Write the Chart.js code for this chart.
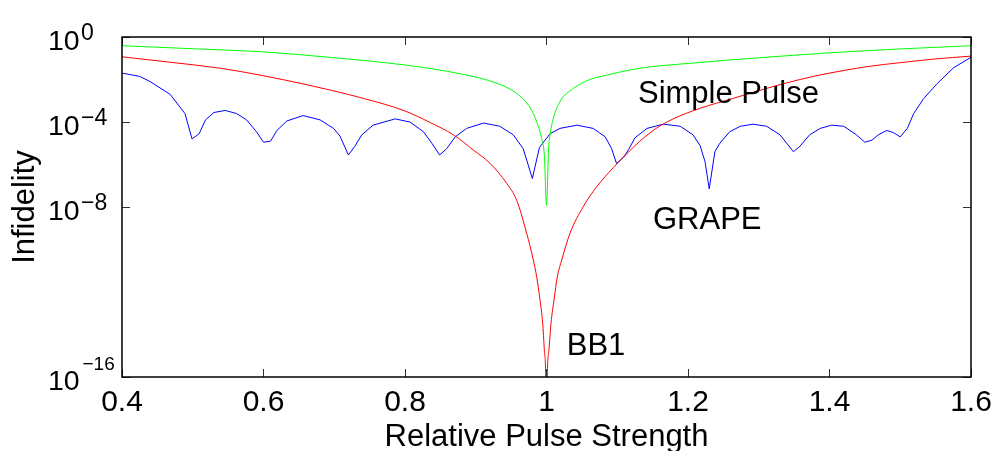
<!DOCTYPE html>
<html>
<head>
<meta charset="utf-8">
<script src="https://cdn.jsdelivr.net/npm/chart.js"></script>
<style>
    html, body { margin: 0; padding: 0; background: #fff; }
    #wrap { width: 995px; height: 451px; position: relative; }
</style>
</head>
<body>
<div id="wrap"><canvas id="infidelityChart"></canvas></div>
<script>
// values (x = relative pulse strength, y = infidelity)
const simpleX = [0.40, 0.50, 0.60, 0.70, 0.80, 0.88, 0.93, 0.958, 0.977, 0.986, 0.993, 0.997, 1.000,
                 1.003, 1.005, 1.0097, 1.019, 1.038, 1.0615, 1.085, 1.132, 1.203, 1.30, 1.40, 1.50, 1.60];
const simpleY = [0.39, 0.28, 0.20, 0.105, 0.048, 0.018, 6.6e-3, 2.2e-3, 4.6e-4, 1.05e-4, 1.7e-5, 2.5e-6, 1.2e-8,
                 6.3e-6, 2.5e-5, 1.5e-4, 9.1e-4, 3.8e-3, 1.0e-2, 1.6e-2, 3.4e-2, 5.8e-2, 0.105, 0.18, 0.275, 0.39];

const bb1X = [0.40, 0.468, 0.5385, 0.60, 0.656, 0.694, 0.741, 0.80, 0.8353, 0.8683, 0.8966, 0.920, 0.9437, 0.9578,
              0.972, 0.9814, 0.9861, 0.9908, 0.9946, 0.9969, 0.9989, 1.000, 1.0011, 1.0035, 1.0064, 1.0106, 1.0153,
              1.0215, 1.0332, 1.052, 1.0709, 1.0944, 1.1134, 1.132, 1.155, 1.179, 1.217, 1.264, 1.311, 1.358, 1.40,
              1.4525, 1.50, 1.547, 1.60];
const bb1Y = [0.117, 0.065, 0.034, 0.015, 6.2e-3, 3.2e-3, 1.3e-3, 3.3e-4, 9.5e-5, 2.5e-5, 4.8e-6, 1.15e-6, 1.3e-7, 2.1e-8,
              5.8e-10, 3.2e-11, 5.2e-12, 4.2e-13, 3.4e-14, 1.9e-15, 1.05e-16, 1e-19, 1.05e-16, 1.9e-15, 3.4e-14, 4.2e-13, 5.2e-12,
              3.2e-11, 5.8e-10, 1.05e-8, 8.9e-8, 7.1e-7, 3.2e-6, 1.26e-5, 5.0e-5, 1.4e-4, 4.4e-4, 1.3e-3, 3.8e-3, 1.0e-2, 2.0e-2,
              4.0e-2, 6.2e-2, 9.1e-2, 0.126];

const grapeX = [0.400, 0.425, 0.440, 0.468, 0.489, 0.499, 0.509, 0.518, 0.530, 0.546, 0.562, 0.576, 0.590, 0.600,
                0.610, 0.619, 0.633, 0.656, 0.680, 0.699, 0.708, 0.720, 0.729, 0.739, 0.755, 0.786, 0.807, 0.826,
                0.838, 0.849, 0.859, 0.871, 0.887, 0.911, 0.934, 0.953, 0.967, 0.980, 0.990, 1.005, 1.019, 1.043,
                1.066, 1.083, 1.092, 1.099, 1.109, 1.116, 1.125, 1.142, 1.165, 1.189, 1.207, 1.217, 1.224, 1.230,
                1.238, 1.245, 1.259, 1.274, 1.292, 1.311, 1.330, 1.349, 1.358, 1.372, 1.387, 1.403, 1.420, 1.438,
                1.450, 1.460, 1.469, 1.481, 1.490, 1.500, 1.510, 1.519, 1.533, 1.552, 1.575, 1.600];
const grapeY = [2.0e-2, 1.4e-2, 7.9e-3, 2.0e-3, 2.5e-4, 1.6e-5, 2.8e-5, 1.26e-4, 2.8e-4, 3.5e-4, 2.5e-4, 1.26e-4, 3.5e-5, 1.12e-5,
                1.26e-5, 4.0e-5, 1.12e-4, 2.0e-4, 1.26e-4, 5.0e-5, 2.2e-5, 2.8e-6, 7.1e-6, 2.5e-5, 7.1e-5, 1.4e-4, 1.0e-4, 3.5e-5,
                1.0e-5, 2.8e-6, 5.6e-6, 2.0e-5, 5.0e-5, 8.9e-5, 6.3e-5, 2.5e-5, 5.6e-6, 2.2e-7, 6.3e-6, 2.8e-5, 5.0e-5, 7.1e-5,
                5.0e-5, 2.0e-5, 5.6e-6, 1.12e-6, 2.2e-6, 5.0e-6, 1.8e-5, 5.0e-5, 7.9e-5, 6.3e-5, 2.5e-5, 7.9e-6, 1.4e-6, 7.1e-8,
                4.0e-6, 1.0e-5, 3.5e-5, 6.3e-5, 7.9e-5, 6.3e-5, 2.5e-5, 4.0e-6, 7.1e-6, 2.5e-5, 5.0e-5, 7.1e-5, 6.3e-5, 2.5e-5,
                1.12e-5, 1.4e-5, 2.5e-5, 4.0e-5, 3.2e-5, 2.0e-5, 5.0e-5, 2.5e-4, 1.26e-3, 6.3e-3, 3.5e-2, 0.112];

const xTicks = [0.4, 0.6, 0.8, 1.0, 1.2, 1.4, 1.6];
const yTicks = [1, 1e-4, 1e-8, 1e-16];
const yTickExp = ['0', '\u22124', '\u22128', '\u221216'];

// in-plot curve names, anchored at (x, y) data positions
const curveNames = ['Simple Pulse', 'GRAPE', 'BB1'];
const curveNameX = [1.1293, 1.1505, 1.0286];
const curveNameY = [7.8e-4, 9.2e-10, 1.1e-15];

const FONT = '"Liberation Sans", Arial, Helvetica, sans-serif';

function pts(xs, ys) {
    return xs.map((v, i) => ({ x: v, y: ys[i] }));
}

// box, inward ticks, 10^n labels and curve names
const framePlugin = {
    id: 'frame',
    afterDatasetsDraw(chart) {
        const { ctx, chartArea: a, scales: { x, y } } = chart;
        ctx.save();

        ctx.strokeStyle = '#333';
        ctx.lineWidth = 1;
        ctx.beginPath();
        xTicks.forEach(v => {
            const px = Math.round(x.getPixelForValue(v)) + 0.5;
            ctx.moveTo(px, a.bottom); ctx.lineTo(px, a.bottom - 8);
            ctx.moveTo(px, a.top); ctx.lineTo(px, a.top + 8);
        });
        yTicks.forEach(v => {
            const py = Math.round(y.getPixelForValue(v)) + 0.5;
            ctx.moveTo(a.left, py); ctx.lineTo(a.left + 8, py);
            ctx.moveTo(a.right, py); ctx.lineTo(a.right - 8, py);
        });
        ctx.stroke();

        ctx.strokeStyle = '#000';
        ctx.lineWidth = 1.5;
        ctx.strokeRect(a.left, a.top, a.right - a.left, a.bottom - a.top);

        ctx.fillStyle = '#000';
        ctx.textAlign = 'left';
        ctx.textBaseline = 'alphabetic';
        yTicks.forEach((v, i) => {
            const py = y.getPixelForValue(v);
            ctx.font = '28.5px ' + FONT;
            ctx.fillText('10', 48, py + 13);
            const small = yTickExp[i].length > 2;
            ctx.font = (small ? 19 : 23) + 'px ' + FONT;
            ctx.fillText(yTickExp[i], small ? 82.5 : 81, small ? py - 7 : py + 2.5);
        });

        ctx.font = '31px ' + FONT;
        curveNames.forEach((t, i) => {
            ctx.fillText(t, x.getPixelForValue(curveNameX[i]), y.getPixelForValue(curveNameY[i]));
        });
        ctx.restore();
    }
};

const ctx = document.getElementById('infidelityChart').getContext('2d');
const infidelityChart = new Chart(ctx, {
    type: 'line',
    data: {
        datasets: [
            {
                label: 'Simple Pulse',
                data: pts(simpleX, simpleY),
                borderColor: '#00ff00',
                borderWidth: 1,
                pointRadius: 0,
                cubicInterpolationMode: 'monotone'
            },
            {
                label: 'BB1',
                data: pts(bb1X, bb1Y),
                borderColor: '#ff0000',
                borderWidth: 1,
                pointRadius: 0,
                cubicInterpolationMode: 'monotone'
            },
            {
                label: 'GRAPE',
                data: pts(grapeX, grapeY),
                borderColor: '#0000ff',
                borderWidth: 1,
                pointRadius: 0,
                tension: 0
            }
        ]
    },
    options: {
        responsive: true,
        maintainAspectRatio: false,
        animation: false,
        layout: {
            padding: { top: 37, right: 24, left: 0, bottom: 0 }
        },
        plugins: {
            legend: { display: false },
            tooltip: { enabled: false }
        },
        scales: {
            x: {
                type: 'linear',
                min: 0.4,
                max: 1.6,
                afterBuildTicks: s => { s.ticks = xTicks.map(v => ({ value: v })); },
                ticks: {
                    color: '#000',
                    font: { family: FONT, size: 30 },
                    padding: 8,
                    maxRotation: 0,
                    autoSkip: false,
                    callback: v => String(+v.toFixed(1))
                },
                grid: { display: false, drawTicks: false },
                border: { display: false },
                title: {
                    display: true,
                    text: 'Relative Pulse Strength',
                    color: '#000',
                    font: { family: FONT, size: 31, lineHeight: 0.8 },
                    padding: { top: 0, bottom: 1 }
                },
                afterFit: s => {
                    s.height = 74;
                    s.paddingLeft = 0;
                    s.paddingRight = 0;
                }
            },
            y: {
                type: 'logarithmic',
                min: 1e-16,
                max: 1,
                afterBuildTicks: s => { s.ticks = yTicks.map(v => ({ value: v })); },
                ticks: { display: false },
                grid: { display: false, drawTicks: false },
                border: { display: false },
                title: {
                    display: true,
                    text: 'Infidelity',
                    color: '#000',
                    font: { family: FONT, size: 31, lineHeight: 0.8 },
                    padding: { top: 13, bottom: 0 }
                },
                afterFit: s => { s.width = 122; }
            }
        }
    },
    plugins: [framePlugin]
});
</script>
</body>
</html>
